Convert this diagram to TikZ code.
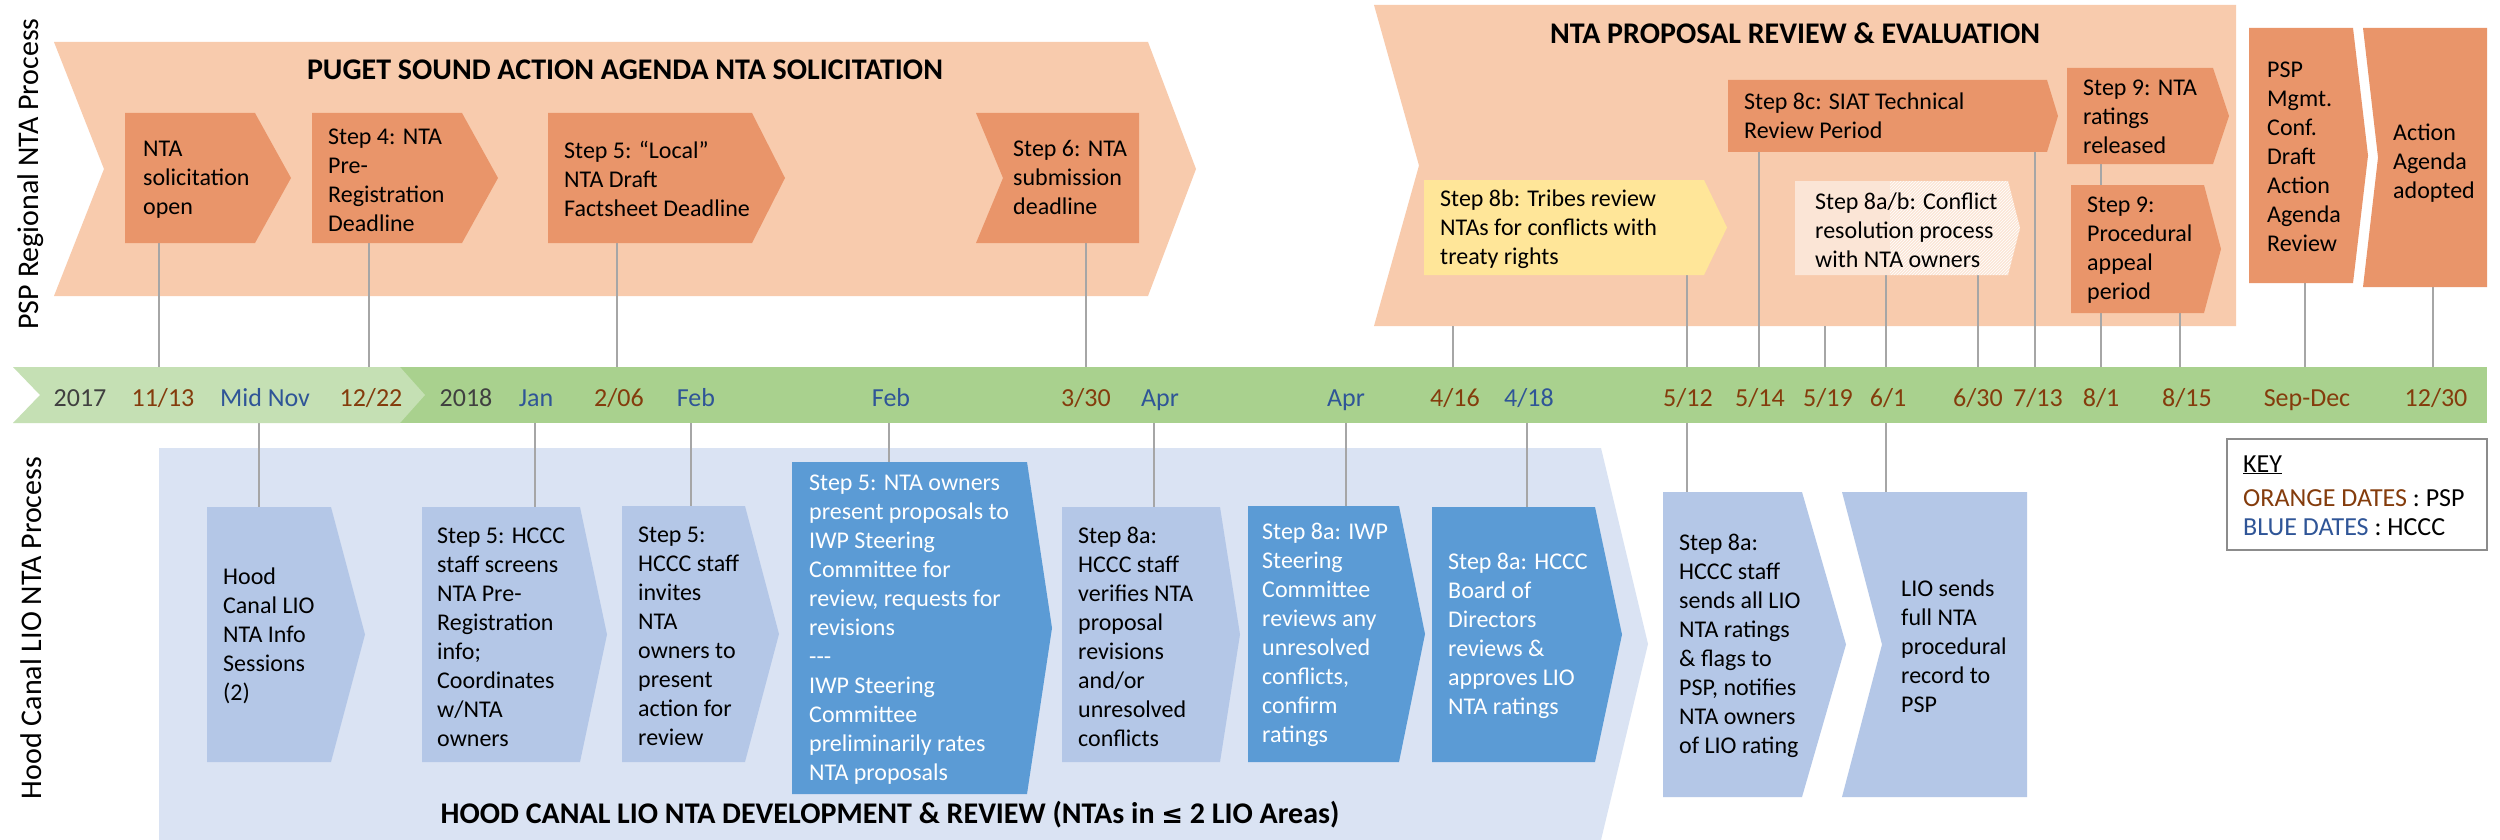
\documentclass[tikz,border=0pt]{standalone}
\usepackage{fontspec}
\setmainfont{Carlito}
\newfontfamily\dvsfont{DejaVu Sans}
\usetikzlibrary{patterns}

\definecolor{bandor}{HTML}{F8CBAD}
\definecolor{boxor}{HTML}{E9956A}
\definecolor{peach}{HTML}{FBE5D6}
\definecolor{yel}{HTML}{FFE699}
\definecolor{glight}{HTML}{C5E0B4}
\definecolor{gdark}{HTML}{A9D18E}
\definecolor{bandbl}{HTML}{DAE3F3}
\definecolor{boxbl}{HTML}{B4C7E7}
\definecolor{dkbl}{HTML}{5B9BD5}
\definecolor{brn}{HTML}{843C0C}
\definecolor{bdate}{HTML}{2F5597}
\definecolor{gtxt}{HTML}{404040}
\definecolor{connc}{HTML}{A6A6A6}
\definecolor{keyc}{HTML}{8C8C8C}

% chevron: colour, x left, x notch, x right body, x tip, y top, y bottom
\newcommand{\chev}[7]{\fill[#1] (#2,#6) -- (#4,#6) -- (#5,{(#6+#7)/2}) -- (#4,#7) -- (#2,#7) -- (#3,{(#6+#7)/2}) -- cycle;}

\tikzset{
  boxtxt/.style={anchor=west, align=left, font=\fontsize{24}{29}\selectfont, inner sep=0pt, text=black},
  wtxt/.style={boxtxt, text=white},
  ttl/.style={font=\bfseries\fontsize{30}{36}\selectfont, inner sep=0pt, anchor=center},
  datel/.style={font=\fontsize{26}{31}\selectfont, inner sep=0pt, anchor=base},
  od/.style={datel, text=brn},
  bd/.style={datel, text=bdate},
  yd/.style={datel, text=gtxt},
  conn/.style={draw=connc, line width=1.8pt},
  side/.style={font=\fontsize{30}{36}\selectfont, rotate=90, inner sep=0pt, anchor=center},
  keytxt/.style={font=\fontsize{26}{31}\selectfont, inner sep=0pt, anchor=base west},
}

\begin{document}
\begin{tikzpicture}[x=1pt,y=-1pt]
\useasboundingbox (0,0) rectangle (2500,840);
\fill[white] (0,0) rectangle (2500,840);

% ---------- bands ----------
\chev{bandor}{54}{104}{1148}{1196}{42}{296}
\chev{bandor}{1374}{1419}{2236}{2236}{5}{326}
\chev{bandbl}{159}{159}{1601}{1648}{448}{840}

% ---------- connectors ----------
\foreach \x/\ya/\yb [count=\i] in {
  159/243/367, 369/243/367, 617/243/367, 1086/243/367,
  1453/326/367, 1687/275/367, 1759/152/367, 1825/326/367,
  1886/275/367, 1978/275/367, 2035/152/367, 2101/313/367,
  2180/313/367, 2305/283/367, 2433/287/367, 2101/164/185,
  259/423/507, 535/423/507, 691/423/506, 889/423/462,
  1154/423/507, 1346/423/506, 1527/423/507, 1687/423/492,
  1886/423/492}
{
  \coordinate (ca\i) at (\x,\ya);
  \coordinate (cb\i) at (\x,\yb);
  \draw[conn] (ca\i) -- (cb\i);
}

% ---------- top boxes ----------
\chev{boxor}{125}{125}{255}{291}{113}{243}
\chev{boxor}{312}{312}{462}{498}{113}{243}
\chev{boxor}{548}{548}{752}{785}{113}{243}
\chev{boxor}{976}{1003}{1139}{1139}{113}{243}
\chev{boxor}{1728}{1728}{2047}{2058}{80}{152}
\chev{boxor}{2067}{2067}{2213}{2229}{68}{164}
\chev{boxor}{2071}{2071}{2204}{2221}{185}{313}
\chev{boxor}{2249}{2249}{2353}{2368}{28}{283}
\chev{boxor}{2363}{2378}{2487}{2487}{28}{287}
\chev{yel}{1424}{1424}{1704}{1727}{180}{275}
\chev{peach}{1795}{1795}{2008}{2020}{181}{275}
\begin{scope}
  \clip (1795,181) -- (2008,181) -- (2020,228) -- (2008,275) -- (1795,275) -- cycle;
  \fill[pattern=north east lines, pattern color=white] (1890,175) rectangle (2030,280);
\end{scope}

% ---------- timeline ----------
\fill[gdark] (400,367) rectangle (2487,423);
\chev{glight}{13}{40}{400}{425}{367}{423}

% ---------- bottom boxes ----------
\chev{boxbl}{207}{207}{331}{365}{507}{762}
\chev{boxbl}{422}{422}{580}{607}{507}{762}
\chev{boxbl}{622}{622}{745}{779}{506}{762}
\chev{dkbl}{792}{792}{1027}{1052}{462}{794}
\chev{boxbl}{1062}{1062}{1220}{1240}{507}{762}
\chev{dkbl}{1248}{1248}{1399}{1425}{506}{762}
\chev{dkbl}{1432}{1432}{1595}{1622}{507}{762}
\chev{boxbl}{1663}{1663}{1802}{1846}{492}{797}
\chev{boxbl}{1842}{1882}{2027}{2027}{492}{797}

% ---------- titles & side labels ----------
\node[ttl] (ttlA) at (625,70) {PUGET SOUND ACTION AGENDA NTA SOLICITATION};
\node[ttl] (ttlB) at (1795,33) {NTA PROPOSAL REVIEW \& EVALUATION};
\node[ttl] (ttlC) at (890,815) {HOOD CANAL LIO NTA DEVELOPMENT \& REVIEW (NTAs in {\dvsfont\fontsize{26}{30}\selectfont ≤} 2 LIO Areas)};
\node[side] (sideA) at (31,174) {PSP Regional NTA Process};
\node[side] (sideB) at (31,628) {Hood Canal LIO NTA Process};

% ---------- top box texts ----------
\node[boxtxt] (t1) at (143,180) {NTA\\solicitation\\open};
\node[boxtxt] (t2) at (328,180) {Step 4: NTA\\Pre-\\Registration\\Deadline};
\node[boxtxt] (t3) at (564,179) {Step 5: “Local”\\NTA Draft\\Factsheet Deadline};
\node[boxtxt] (t4) at (1013,177) {Step 6: NTA\\submission\\deadline};
\node[boxtxt] (t8c) at (1744,116) {Step 8c: SIAT Technical\\Review Period};
\node[boxtxt] (t9a) at (2083,117) {Step 9: NTA\\ratings\\released};
\node[boxtxt] (t9b) at (2087,250) {Step 9:\\Procedural\\appeal\\period};
\node[boxtxt] (t8b) at (1440,229) {Step 8b: Tribes review\\NTAs for conflicts with\\treaty rights};
\node[boxtxt] (t8ab) at (1815,230) {Step 8a/b: Conflict\\resolution process\\with NTA owners};
\node[boxtxt] (tpsp) at (2267,157) {PSP\\Mgmt.\\Conf.\\Draft\\Action\\Agenda\\Review};
\node[boxtxt] (tact) at (2393,163) {Action\\Agenda\\adopted};

% ---------- bottom box texts ----------
\node[boxtxt] (b1) at (223,636) {Hood\\Canal LIO\\NTA Info\\Sessions\\(2)};
\node[boxtxt] (b2) at (437,637) {Step 5: HCCC\\staff screens\\NTA Pre-\\Registration\\info;\\Coordinates\\w/NTA\\owners};
\node[boxtxt] (b3) at (638,636) {Step 5:\\HCCC staff\\invites\\NTA\\owners to\\present\\action for\\review};
\node[wtxt] (b4) at (809,630) {Step 5: NTA owners\\present proposals to\\IWP Steering\\Committee for\\review, requests for\\revisions\\-{}-{}-\\IWP Steering\\Committee\\preliminarily rates\\NTA proposals};
\node[boxtxt] (b5) at (1078,637) {Step 8a:\\HCCC staff\\verifies NTA\\proposal\\revisions\\and/or\\unresolved\\conflicts};
\node[wtxt] (b6) at (1262,635) {Step 8a: IWP\\Steering\\Committee\\reviews any\\unresolved\\conflicts,\\confirm\\ratings};
\node[wtxt] (b7) at (1448,636) {Step 8a: HCCC\\Board of\\Directors\\reviews \&\\approves LIO\\NTA ratings};
\node[boxtxt] (b8) at (1679,646) {Step 8a:\\HCCC staff\\sends all LIO\\NTA ratings\\\& flags to\\PSP, notifies\\NTA owners\\of LIO rating};
\node[boxtxt] (b9) at (1901,646) {LIO sends\\full NTA\\procedural\\record to\\PSP};

% ---------- timeline labels ----------
\foreach \x/\s/\t [count=\i] in {
  80/yd/2017, 163/od/11\slash 13, 265/bd/Mid Nov, 371/od/12\slash 22,
  466/yd/2018, 536/bd/Jan, 619/od/2\slash 06, 696/bd/Feb, 891/bd/Feb,
  1086/od/3\slash 30, 1160/bd/Apr, 1346/bd/Apr, 1455/od/4\slash 16,
  1529/bd/4\slash 18, 1688/od/5\slash 12, 1760/od/5\slash 14,
  1828/od/5\slash 19, 1888/od/6\slash 1, 1978/od/6\slash 30,
  2038/od/7\slash 13, 2101/od/8\slash 1, 2187/od/8\slash 15,
  2307/od/Sep-Dec, 2436/od/12\slash 30}
{
  \node[\s] (d\i) at (\x,406) {\t};
}

% ---------- key ----------
\draw[keyc, line width=2pt] (2227,439) rectangle (2487,550);
\node[keytxt] (k1) at (2243,472) {\underline{KEY}};
\node[keytxt] (k2) at (2243,506) {\textcolor{brn}{ORANGE DATES} : PSP};
\node[keytxt] (k3) at (2243,535) {\textcolor{bdate}{BLUE DATES} : HCCC};
\end{tikzpicture}
\end{document}
